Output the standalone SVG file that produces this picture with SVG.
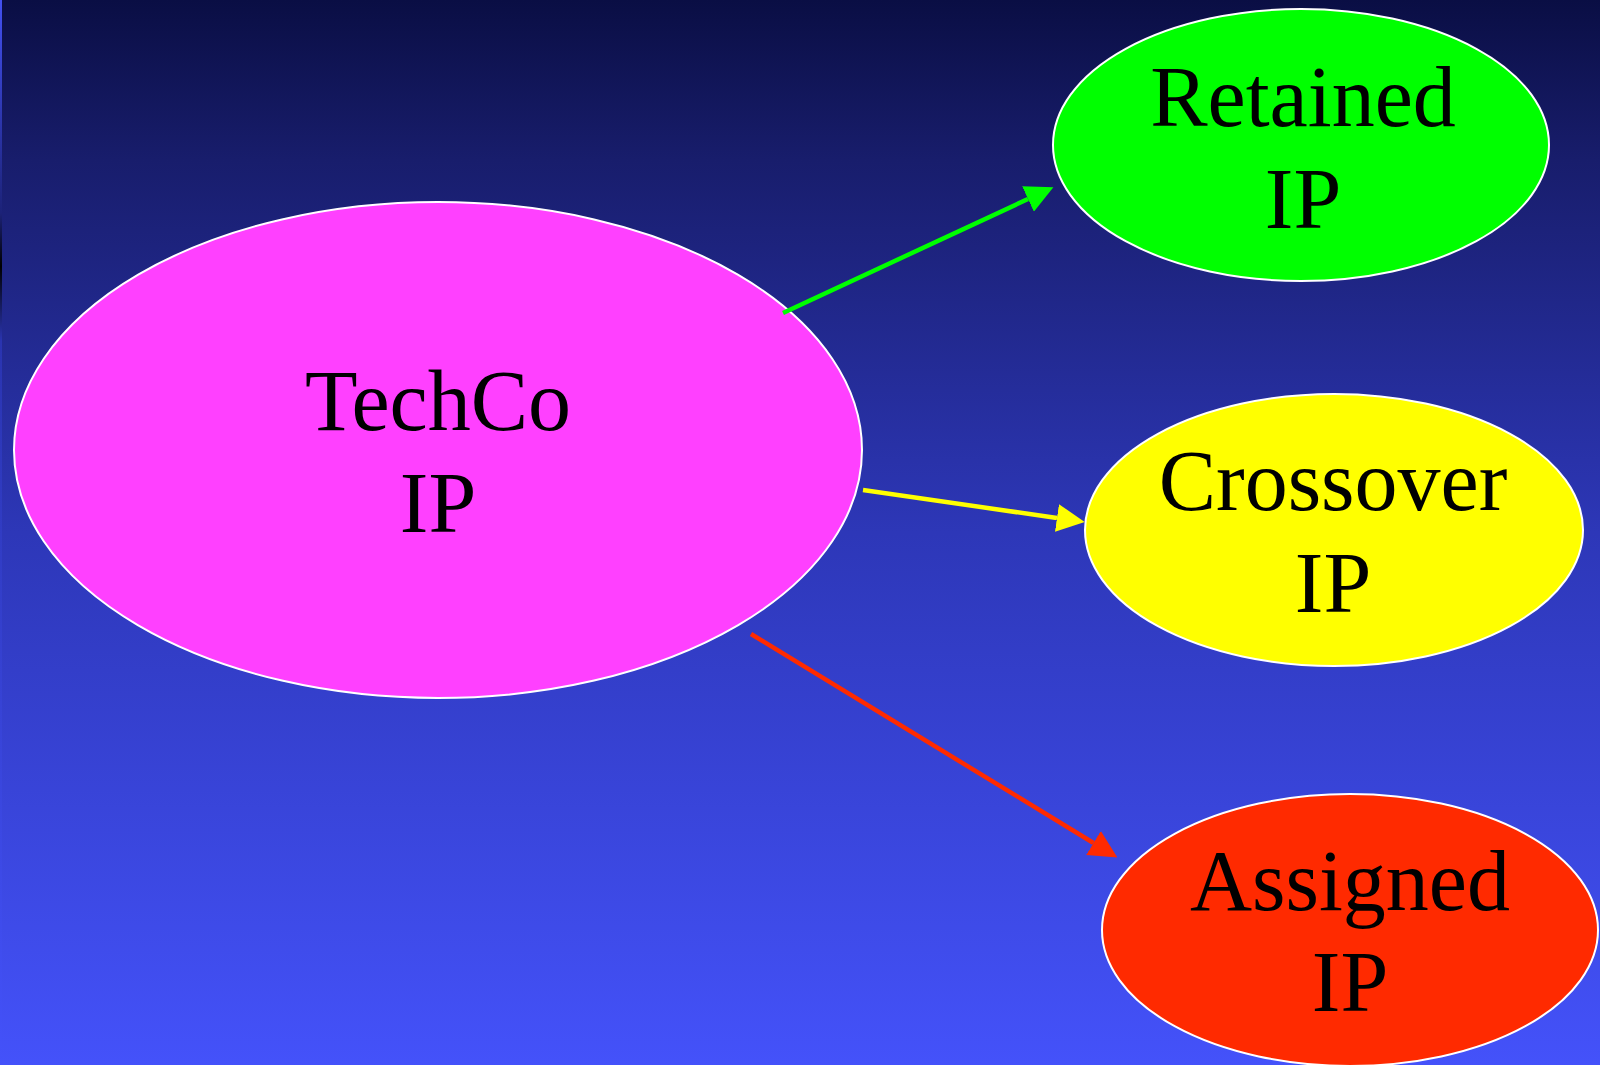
<svg xmlns="http://www.w3.org/2000/svg" width="1600" height="1065" viewBox="0 0 1600 1065">
<style>
  .node { stroke: #ffffff; stroke-width: 2; }
  .lbl { font-family: "Liberation Serif", "Times New Roman", serif; font-size: 86px; fill: #000000; text-anchor: middle; }
  .edge { stroke-width: 4.5; fill: none; stroke-linecap: butt; }
</style>
<defs>
  <linearGradient id="bg" x1="0" y1="0" x2="0" y2="1">
    <stop offset="0" stop-color="#0a0e44"/>
    <stop offset="0.15" stop-color="#181d6c"/>
    <stop offset="0.5" stop-color="#2d37b8"/>
    <stop offset="1" stop-color="#4452fa"/>
  </linearGradient>
  <linearGradient id="strip" x1="0" y1="0" x2="0" y2="1">
    <stop offset="0" stop-color="#4250f0"/>
    <stop offset="0.2" stop-color="#1c2278"/>
    <stop offset="0.25" stop-color="#000000"/>
    <stop offset="0.32" stop-color="#2a34b0"/>
    <stop offset="1" stop-color="#4452fa"/>
  </linearGradient>
  <marker id="ahG" markerUnits="userSpaceOnUse" markerWidth="28" markerHeight="28" refX="0" refY="14" orient="auto">
    <path d="M0,0 L28,14 L0,28 z" fill="#00ff00"/>
  </marker>
  <marker id="ahY" markerUnits="userSpaceOnUse" markerWidth="28" markerHeight="28" refX="0" refY="14" orient="auto">
    <path d="M0,0 L28,14 L0,28 z" fill="#ffff00"/>
  </marker>
  <marker id="ahR" markerUnits="userSpaceOnUse" markerWidth="28" markerHeight="28" refX="0" refY="14" orient="auto">
    <path d="M0,0 L28,14 L0,28 z" fill="#ff2a00"/>
  </marker>
</defs>
<rect x="0" y="0" width="1600" height="1065" fill="url(#bg)"/>
<rect x="0" y="0" width="2" height="1065" fill="url(#strip)"/>

<g id="techco">
  <ellipse class="node" cx="438" cy="450" rx="424" ry="248" fill="#ff40ff"/>
  <text class="lbl" x="438" y="430">TechCo</text>
  <text class="lbl" x="438" y="532">IP</text>
</g>
<g id="retained">
  <ellipse class="node" cx="1301" cy="145" rx="248" ry="136" fill="#00ff00"/>
  <text class="lbl" x="1303" y="126">Retained</text>
  <text class="lbl" x="1303" y="228">IP</text>
</g>
<g id="crossover">
  <ellipse class="node" cx="1334" cy="530" rx="249" ry="136" fill="#ffff00"/>
  <text class="lbl" x="1333" y="510">Crossover</text>
  <text class="lbl" x="1333" y="612">IP</text>
</g>
<g id="assigned">
  <ellipse class="node" cx="1350" cy="930" rx="248" ry="136" fill="#ff2a00"/>
  <text class="lbl" x="1350" y="910">Assigned</text>
  <text class="lbl" x="1350" y="1011">IP</text>
</g>

<g id="connectors">
  <line class="edge" x1="783" y1="313" x2="1028" y2="199" stroke="#00ff00" marker-end="url(#ahG)"/>
  <line class="edge" x1="863" y1="490" x2="1057" y2="518" stroke="#ffff00" marker-end="url(#ahY)"/>
  <line class="edge" x1="751" y1="634" x2="1093.5" y2="843" stroke="#ff2a00" marker-end="url(#ahR)"/>
</g>
</svg>
